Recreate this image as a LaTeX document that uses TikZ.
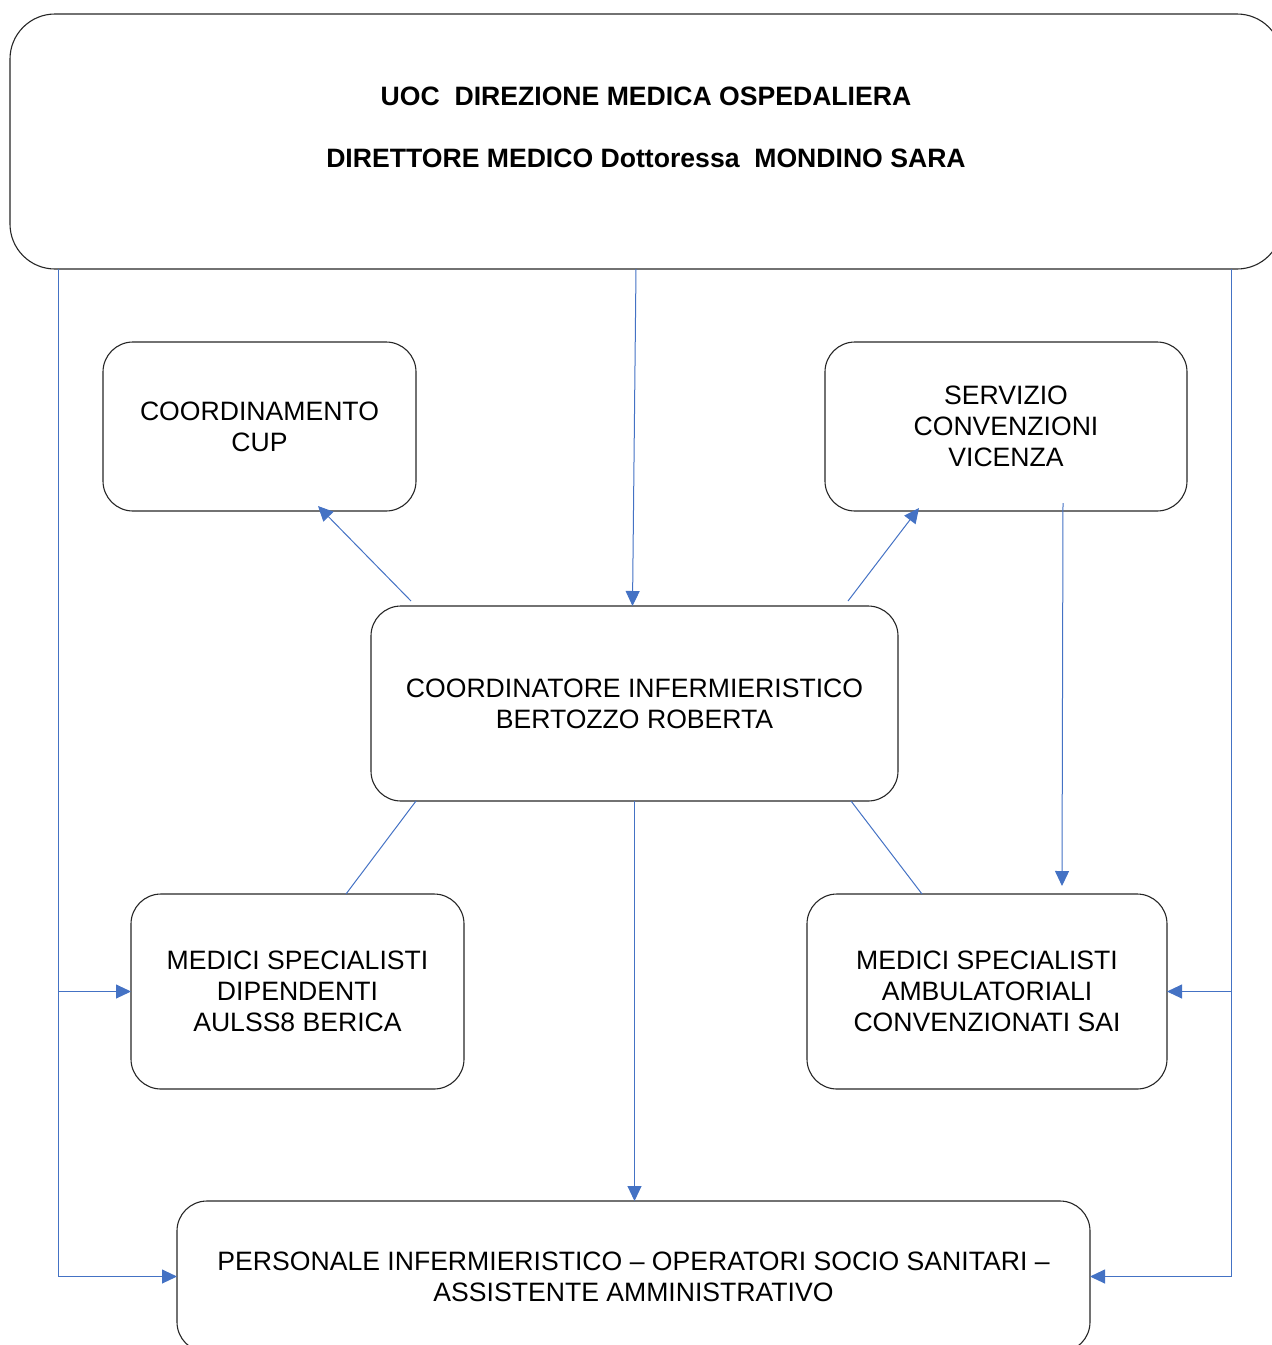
\documentclass[tikz,border=0pt]{standalone}
\usepackage{fontspec}
\setmainfont{Liberation Sans}
\usetikzlibrary{arrows.meta,calc}
\definecolor{lineblue}{HTML}{4472C4}
\begin{document}
\begin{tikzpicture}[x=1pt,y=-1pt,
  box/.style={draw=black!85,line width=1.1pt,rounded corners=30pt,outer sep=0pt,inner sep=0pt,align=center,font=\fontsize{26.6}{30.8}\selectfont},
  titletext/.style={inner sep=0pt,font=\fontsize{26.6}{30.8}\selectfont\bfseries},
  conn/.style={draw=lineblue,line width=1pt,-{Triangle[length=15pt,width=14pt]}},
  plain/.style={draw=lineblue,line width=1pt}]
\useasboundingbox (0,0) rectangle (1272,1345);
\node[box,rounded corners=45pt,minimum width=1272pt,minimum height=255pt] (top) at (646,141.5) {};
\node[titletext] (t1) at (646,96) {UOC\ \ DIREZIONE MEDICA OSPEDALIERA};
\node[titletext] (t2) at (646,158) {DIRETTORE MEDICO Dottoressa\ \ MONDINO SARA};
\node[box,minimum width=313pt,minimum height=169pt] (cup) at (259.5,426.5) {COORDINAMENTO\\CUP};
\node[box,minimum width=362pt,minimum height=169pt] (serv) at (1006,426.5) {SERVIZIO\\CONVENZIONI\\VICENZA};
\node[box,minimum width=527pt,minimum height=195pt] (coord) at (634.5,703.5) {COORDINATORE INFERMIERISTICO\\BERTOZZO ROBERTA};
\node[box,minimum width=333pt,minimum height=195pt] (dip) at (297.5,991.5) {MEDICI SPECIALISTI\\DIPENDENTI\\AULSS8 BERICA};
\node[box,minimum width=360pt,minimum height=195pt] (amb) at (987,991.5) {MEDICI SPECIALISTI\\AMBULATORIALI\\CONVENZIONATI SAI};
\node[box,minimum width=913pt,minimum height=151pt] (pers) at (633.5,1276.5) {PERSONALE INFERMIERISTICO – OPERATORI SOCIO SANITARI –\\ASSISTENTE AMMINISTRATIVO};
\coordinate (lx) at (58,0);
\coordinate (rx) at (1231,0);
\draw[conn] ($(top.south)+(-10,0)$) -- ($(coord.north)+(-2,0)$);
\draw[conn] ($(coord.north west)+(40,-5)$) -- ($(cup.south)+(58.5,-5)$);
\draw[conn] ($(coord.north east)+(-50,-5)$) -- ($(serv.south)+(-87,-3)$);
\draw[conn] ($(serv.south)+(57,-8)$) -- ($(amb.north)+(75,-8)$);
\draw[plain] ($(coord.south west)+(45,0)$) -- ($(dip.north)+(48.5,0)$);
\draw[plain] ($(coord.south east)+(-47,0)$) -- ($(amb.north)+(-65,0)$);
\draw[conn] (coord.south) -- (coord.south |- pers.north);
\draw[conn] (top.south -| lx) -- (pers.west -| lx) -- (pers.west);
\draw[conn] (dip.west -| lx) -- (dip.west);
\draw[conn] (top.south -| rx) -- (pers.east -| rx) -- (pers.east);
\draw[conn] (amb.east -| rx) -- (amb.east);
\end{tikzpicture}
\end{document}
